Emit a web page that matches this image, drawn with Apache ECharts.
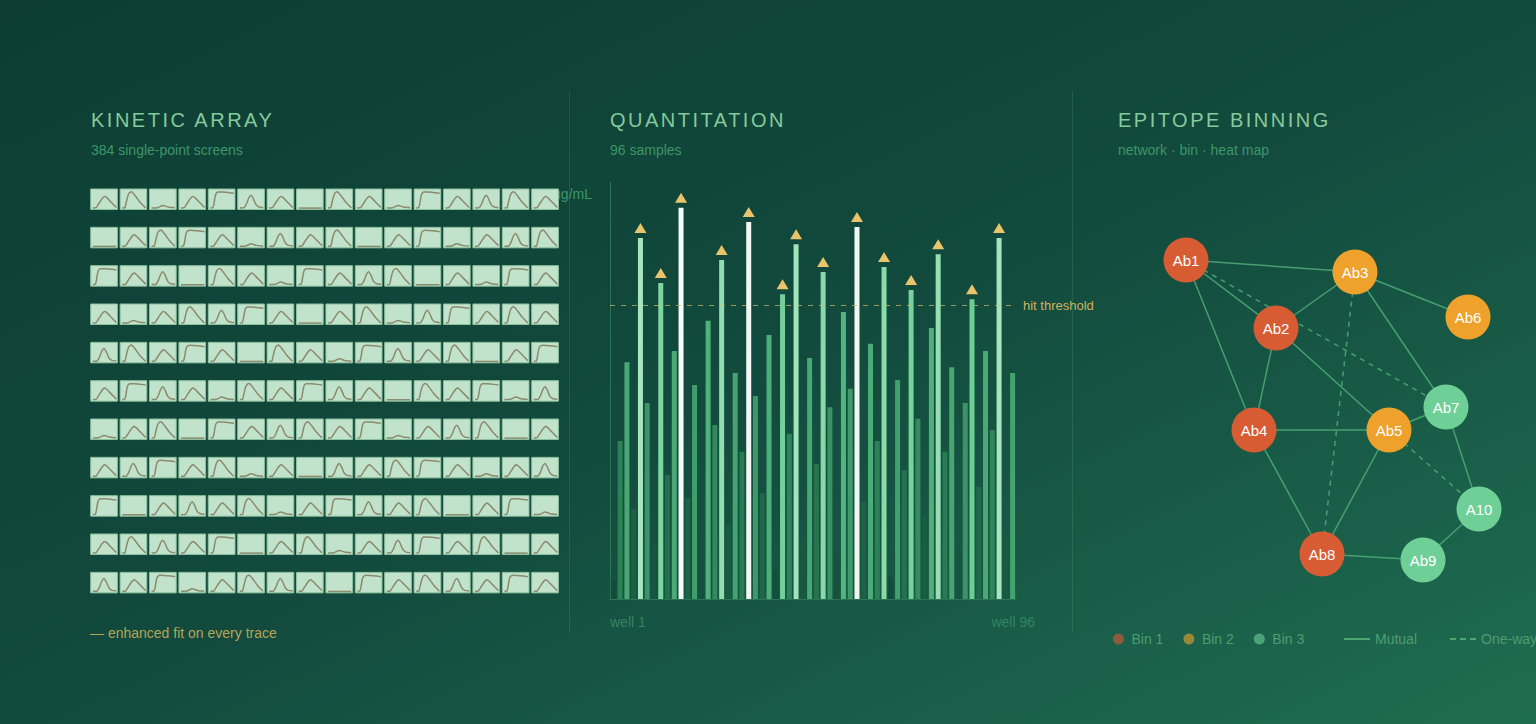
<!DOCTYPE html>
<html>
<head>
<meta charset="utf-8">
<title>Assay panels</title>
<script src="https://cdn.jsdelivr.net/npm/echarts@6/dist/echarts.min.js"></script>
<style>
  html, body { margin: 0; padding: 0; }
  #root { width: 1536px; height: 724px; }
</style>
</head>
<body>
<div id="root"></div>
<script>
// kinetic array: one letter per trace, rows of 16 tiles
// S = saturating, M = mid peak, N = narrow peak, T = tall peak, B = low bump, F = flat
var kineticRows = [
  'MTBMSNMFTMBSMNTM',
  'FMTSMBNMTFMSBMNT',
  'SMNFTMBSMNTFMBSM',
  'MBMTNSMFMTBNSMTM',
  'NTMSMFTMBSNMTFMS',
  'MSNMBTMSNMFTMSBN',
  'BMTFSMNTMSBMNTFM',
  'MNSMTBMFNMTSMBMN',
  'SFMNMTBMSNMTFMSB',
  'MTNMSFMTBMNSMTFM',
  'NMSBMTNMFSMTNMSM'
];
var shapeOrder = ['S', 'M', 'N', 'T', 'B', 'F'];
var traceS = [[0.08,0.92],[0.17,0.91],[0.21,0.74],[0.25,0.42],[0.29,0.23],[0.36,0.15],[0.55,0.15],[0.8,0.18],[0.96,0.21]];
var traceM = [[0.08,0.92],[0.2,0.91],[0.3,0.72],[0.42,0.48],[0.52,0.36],[0.6,0.42],[0.75,0.62],[0.96,0.9]];
var traceN = [[0.08,0.92],[0.24,0.91],[0.33,0.72],[0.42,0.42],[0.5,0.3],[0.58,0.45],[0.68,0.75],[0.8,0.88],[0.96,0.91]];
var traceT = [[0.08,0.92],[0.18,0.91],[0.23,0.65],[0.3,0.3],[0.38,0.15],[0.46,0.16],[0.58,0.35],[0.75,0.65],[0.95,0.92]];
var traceB = [[0.08,0.92],[0.3,0.91],[0.5,0.8],[0.7,0.88],[0.95,0.92]];
var traceF = [[0.08,0.93],[0.95,0.93]];
var tileShapes = { S: traceS, M: traceM, N: traceN, T: traceT, B: traceB, F: traceF };

// quantitation, μg/mL per well
var wellValues = [
  4.3, 37.9, 56.8, 21.6, 86.6, 47.0, 13.4, 75.8, 29.7, 59.5,
  93.8, 24.2, 51.3, 9.4, 66.7, 41.7, 81.3, 17.7, 54.2, 35.3,
  90.4, 48.7, 25.4, 63.3, 7.0, 73.1, 39.6, 85.1, 14.6, 57.8,
  32.4, 78.4, 46.0, 10.8, 68.8, 50.4, 89.2, 23.3, 61.2, 37.9,
  79.6, 5.3, 52.5, 30.9, 74.1, 43.2, 19.7, 65.0, 82.7, 35.3,
  55.6, 12.2, 47.0, 71.9, 26.9, 59.5, 40.5, 86.6, 15.8, 54.2
];
var hitThreshold = 70.5;

// epitope binning network
var abNames = ['Ab1', 'Ab2', 'Ab3', 'Ab4', 'Ab5', 'Ab6', 'Ab7', 'Ab8', 'Ab9', 'A10'];
var abX = [66, 156, 235, 134, 269, 348, 326, 202, 303, 359];
var abY = [30, 98, 42, 200, 200, 87, 177, 324, 330, 279];
var abBin = [0, 0, 1, 0, 1, 1, 2, 0, 2, 2];
var binNames = ['Bin 1', 'Bin 2', 'Bin 3'];
var mutualPairs = [
  ['Ab1','Ab3'], ['Ab1','Ab2'], ['Ab1','Ab4'], ['Ab2','Ab3'], ['Ab2','Ab4'],
  ['Ab2','Ab5'], ['Ab3','Ab6'], ['Ab3','Ab7'], ['Ab4','Ab5'], ['Ab4','Ab8'],
  ['Ab5','Ab7'], ['Ab5','Ab8'], ['Ab7','A10'], ['Ab8','Ab9'], ['Ab9','A10']
];
var oneWayPairs = [['Ab1','Ab7'], ['Ab3','Ab8'], ['Ab5','A10']];

var binColors = ['#d75b33', '#eea12b', '#6ecf97'];
var edgeColor = '#4da775';
var TILE_W = 0.908, TILE_H = 0.535;
var FONT = "'Liberation Sans', Arial, sans-serif";
var panelTitles = ['KINETIC ARRAY', 'QUANTITATION', 'EPITOPE BINNING'];

var tileData = [];
kineticRows.forEach(function (row, r) {
  row.split('').forEach(function (k, c) {
    tileData.push([c, r, shapeOrder.indexOf(k)]);
  });
});

function renderTile(params, api) {
  var c = api.value(0), r = api.value(1);
  var p0 = api.coord([c, r]);
  var p1 = api.coord([c + TILE_W, r + TILE_H]);
  var w = p1[0] - p0[0], h = p1[1] - p0[1];
  var trace = tileShapes[shapeOrder[api.value(2)]];
  var pts = trace.map(function (p) { return [p0[0] + p[0] * w, p0[1] + p[1] * h]; });
  return {
    type: 'group',
    children: [
      { type: 'rect', shape: { x: p0[0], y: p0[1], width: w, height: h },
        style: { fill: '#c2e3cb', stroke: '#8cc19f', lineWidth: 1 } },
      { type: 'polyline', shape: { points: pts, smooth: 0.2 },
        style: { fill: null, stroke: '#8a8a6e', lineWidth: 1.5 } }
    ]
  };
}

// bar shade climbs with value; top few go white
var barStops = [
  [0, '#10463a'], [14, '#165740'], [24, '#1c6446'], [38, '#2c8157'],
  [55, '#46a572'], [69, '#52b57d'], [71, '#6acd92'], [87, '#a8e6bf'],
  [88.5, '#eff6f2'], [100, '#ffffff']
];
function mix(a, b, t) {
  var pa = parseInt(a.slice(1), 16), pb = parseInt(b.slice(1), 16);
  var out = [16, 8, 0].map(function (s) {
    var x = (pa >> s) & 255, y = (pb >> s) & 255;
    return Math.round(x + (y - x) * t);
  });
  return 'rgb(' + out.join(',') + ')';
}
function barColor(v) {
  for (var i = 1; i < barStops.length; i++) {
    if (v <= barStops[i][0]) {
      var t = (v - barStops[i - 1][0]) / (barStops[i][0] - barStops[i - 1][0]);
      return mix(barStops[i - 1][1], barStops[i][1], t);
    }
  }
  return barStops[barStops.length - 1][1];
}

var wells = wellValues.map(function (v, i) { return 'well ' + (i + 1); });
var hitMarks = wellValues.map(function (v) { return v > hitThreshold ? v : '-'; });

var nodes = abNames.map(function (n, i) {
  return { name: n, value: [abX[i], abY[i]], category: abBin[i] };
});
var links = mutualPairs.map(function (p) {
  return { source: p[0], target: p[1] };
}).concat(oneWayPairs.map(function (p) {
  return { source: p[0], target: p[1], lineStyle: { type: [5, 5] } };
}));

function panelTitle(text, sub, left) {
  return {
    text: text, subtext: sub, left: left, top: 110, itemGap: 13, padding: 0,
    textStyle: { color: '#86c99b', fontSize: 20, fontWeight: 'normal', fontFamily: FONT },
    subtextStyle: { color: '#3d9668', fontSize: 14, fontFamily: FONT }
  };
}

var chart = echarts.init(document.getElementById('root'), null, { renderer: 'svg' });
chart.setOption({
  animation: false,
  backgroundColor: {
    type: 'linear', x: 0, y: 0, x2: 1, y2: 1,
    colorStops: [
      { offset: 0, color: '#0d3d34' },
      { offset: 0.5, color: '#124a3d' },
      { offset: 1, color: '#1f6d51' }
    ]
  },
  textStyle: { fontFamily: FONT },
  title: [
    panelTitle(panelTitles[0], '384 single-point screens', 91),
    panelTitle(panelTitles[1], '96 samples', 610),
    panelTitle(panelTitles[2], 'network · bin · heat map', 1118)
  ],
  legend: [
    { data: binNames, left: 1113, top: 632, padding: 0, itemWidth: 16, itemHeight: 11, itemGap: 20,
      icon: 'circle', itemStyle: { opacity: 0.6 },
      textStyle: { color: '#4d9d73', fontSize: 14 } },
    { data: [
        { name: 'Mutual', icon: 'path://M0,0H26V2H0Z' },
        { name: 'One-way', icon: 'path://M0,0H6V2H0Z M10,0H16V2H10Z M20,0H26V2H20Z' }
      ],
      left: 1344, top: 632, width: 400, padding: 0, itemWidth: 26, itemHeight: 11, itemGap: 33,
      textStyle: { color: '#4d9d73', fontSize: 14 } }
  ],
  grid: [
    { left: 90.7, top: 189, width: 470.4, height: 421.7 },
    { left: 610, top: 182, width: 406, height: 417 },
    { left: 1120, top: 230, width: 400, height: 400 }
  ],
  xAxis: [
    { gridIndex: 0, type: 'value', min: 0, max: 16, show: false },
    { gridIndex: 1, type: 'category', data: wells,
      axisLine: { lineStyle: { color: '#2c7458' } },
      axisTick: { show: false }, axisLabel: { show: false } },
    { gridIndex: 2, type: 'value', min: 0, max: 400, show: false }
  ],
  yAxis: [
    { gridIndex: 0, type: 'value', min: 0, max: 11, inverse: true, show: false },
    { gridIndex: 1, type: 'value', min: 0, max: 100,
      name: 'μg/mL', nameLocation: 'end', nameGap: -12,
      nameTextStyle: { color: '#3d9668', fontSize: 14, align: 'right', verticalAlign: 'middle', padding: [0, 18, 0, 0] },
      axisLine: { show: true, lineStyle: { color: '#2c7458' } },
      axisTick: { show: false }, axisLabel: { show: false }, splitLine: { show: false } },
    { gridIndex: 2, type: 'value', min: 0, max: 400, inverse: true, show: false }
  ],
  graphic: [
    { type: 'line', shape: { x1: 569.5, y1: 91, x2: 569.5, y2: 632 },
      style: { stroke: 'rgba(110,190,140,0.18)', lineWidth: 1 } },
    { type: 'line', shape: { x1: 1072.5, y1: 91, x2: 1072.5, y2: 632 },
      style: { stroke: 'rgba(110,190,140,0.18)', lineWidth: 1 } },
    { type: 'text', left: 90, top: 626,
      style: { text: '— enhanced fit on every trace', fill: '#b5a459', fontSize: 14, fontFamily: FONT } },
    { type: 'text', left: 610, top: 615,
      style: { text: 'well 1', fill: '#348560', fontSize: 14, fontFamily: FONT } },
    { type: 'text', right: 1536 - 1035, top: 615,
      style: { text: 'well 96', fill: '#348560', fontSize: 14, fontFamily: FONT } }
  ],
  series: [
    { type: 'custom', xAxisIndex: 0, yAxisIndex: 0, renderItem: renderTile,
      data: tileData, silent: true },
    { type: 'bar', xAxisIndex: 1, yAxisIndex: 1, data: wellValues, barWidth: 5,
      itemStyle: { color: function (p) { return barColor(p.value); } },
      silent: true,
      markLine: {
        silent: true, symbol: 'none',
        lineStyle: { color: 'rgba(214,188,98,0.7)', type: [5, 6], width: 1 },
        label: { position: 'end', formatter: 'hit threshold', color: '#cdb25f', fontSize: 13, distance: 7 },
        data: [{ yAxis: hitThreshold }]
      } },
    { type: 'scatter', xAxisIndex: 1, yAxisIndex: 1, data: hitMarks,
      symbol: 'triangle', symbolSize: [12, 10], symbolOffset: [0, -10],
      itemStyle: { color: '#e9c46a', opacity: 1 }, silent: true, z: 3 },
    { type: 'graph', coordinateSystem: 'cartesian2d', xAxisIndex: 2, yAxisIndex: 2,
      symbolSize: 45, silent: true,
      categories: binNames.map(function (n, i) { return { name: n, itemStyle: { color: binColors[i] } }; }),
      data: nodes, links: links,
      label: { show: true, position: 'inside', color: '#ffffff', fontSize: 15 },
      lineStyle: { color: edgeColor, width: 1.5, opacity: 0.9, curveness: 0 },
      z: 4 },
    { name: 'Mutual', type: 'line', xAxisIndex: 2, yAxisIndex: 2, data: [], symbol: 'none',
      itemStyle: { color: edgeColor }, lineStyle: { color: edgeColor, width: 2 } },
    { name: 'One-way', type: 'line', xAxisIndex: 2, yAxisIndex: 2, data: [], symbol: 'none',
      itemStyle: { color: edgeColor }, lineStyle: { color: edgeColor, width: 2, type: [4, 4] } }
  ]
});

// panel titles are letter-spaced in the original
function spaceTitles() {
  var texts = document.querySelectorAll('#root svg text');
  for (var i = 0; i < texts.length; i++) {
    if (panelTitles.indexOf(texts[i].textContent) >= 0) {
      texts[i].setAttribute('letter-spacing', '2.5');
    }
  }
}
spaceTitles();
chart.on('finished', spaceTitles);
</script>
</body>
</html>
